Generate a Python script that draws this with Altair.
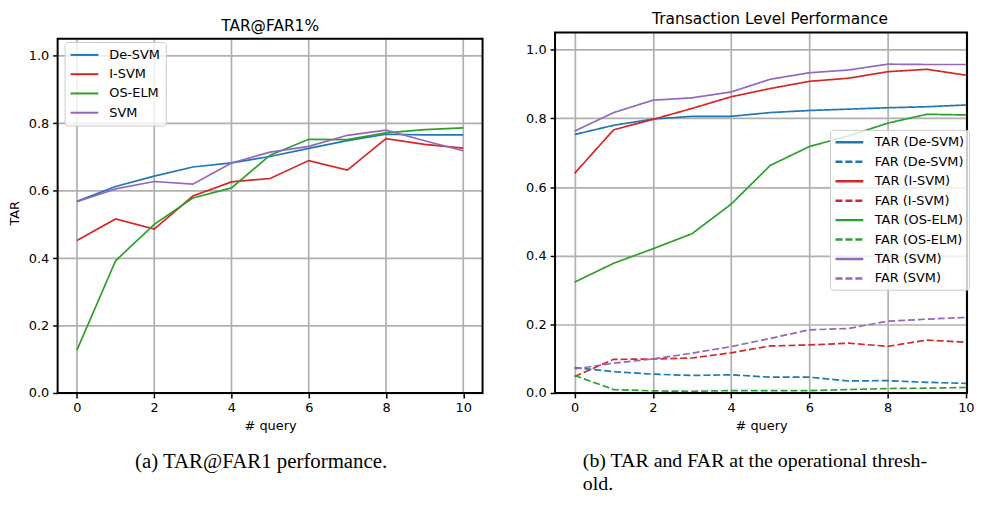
import altair as alt
import pandas as pd

# ---------------- data ----------------
queries = [0, 1, 2, 3, 4, 5, 6, 7, 8, 9, 10]
methods = ["De-SVM", "I-SVM", "OS-ELM", "SVM"]
colors = ["#1f77b4", "#d62728", "#2ca02c", "#9467bd"]

# (a) TAR@FAR1%
tar1_desvm = [0.568, 0.612, 0.643, 0.670, 0.682, 0.701, 0.725, 0.748, 0.767, 0.765, 0.765]
tar1_isvm = [0.452, 0.516, 0.486, 0.584, 0.626, 0.636, 0.689, 0.661, 0.754, 0.737, 0.726]
tar1_oselm = [0.127, 0.392, 0.500, 0.578, 0.608, 0.705, 0.752, 0.751, 0.771, 0.781, 0.786]
tar1_svm = [0.567, 0.605, 0.627, 0.619, 0.682, 0.714, 0.731, 0.764, 0.779, 0.748, 0.718]

# (b) TAR / FAR at operational threshold
tar_desvm = [0.753, 0.780, 0.798, 0.806, 0.806, 0.817, 0.823, 0.827, 0.831, 0.834, 0.839]
far_desvm = [0.074, 0.062, 0.055, 0.051, 0.053, 0.046, 0.046, 0.035, 0.036, 0.031, 0.028]
tar_isvm = [0.640, 0.767, 0.797, 0.829, 0.863, 0.887, 0.908, 0.917, 0.936, 0.943, 0.926]
far_isvm = [0.048, 0.098, 0.099, 0.102, 0.117, 0.137, 0.140, 0.145, 0.136, 0.154, 0.148]
tar_oselm = [0.323, 0.378, 0.420, 0.464, 0.550, 0.663, 0.718, 0.749, 0.786, 0.812, 0.810]
far_oselm = [0.051, 0.010, 0.006, 0.005, 0.007, 0.007, 0.007, 0.010, 0.013, 0.014, 0.016]
tar_svm = [0.763, 0.817, 0.853, 0.860, 0.877, 0.914, 0.933, 0.941, 0.958, 0.957, 0.957]
far_svm = [0.070, 0.087, 0.099, 0.116, 0.135, 0.159, 0.184, 0.188, 0.209, 0.215, 0.220]

series_b = ["TAR (De-SVM)", "FAR (De-SVM)", "TAR (I-SVM)", "FAR (I-SVM)",
            "TAR (OS-ELM)", "FAR (OS-ELM)", "TAR (SVM)", "FAR (SVM)"]
colors_b = ["#1f77b4", "#1f77b4", "#d62728", "#d62728",
            "#2ca02c", "#2ca02c", "#9467bd", "#9467bd"]
dashes_b = [[1, 0], [7, 3], [1, 0], [7, 3], [1, 0], [7, 3], [1, 0], [7, 3]]

x_ticks = [0, 2, 4, 6, 8, 10]
y_ticks = [0.0, 0.2, 0.4, 0.6, 0.8, 1.0]

title_a = "TAR@FAR1%"
title_b = "Transaction Level Performance"
caption_a = ["(a) TAR@FAR1 performance."]
caption_b = ["(b) TAR and FAR at the operational thresh-", "old."]

# ---------------- tables ----------------
rows_a = []
for m, vals in zip(methods, [tar1_desvm, tar1_isvm, tar1_oselm, tar1_svm]):
    for q, v in zip(queries, vals):
        rows_a.append({"query": q, "method": m, "TAR": v})
df_a = pd.DataFrame(rows_a)

rows_b = []
for s, vals in zip(series_b, [tar_desvm, far_desvm, tar_isvm, far_isvm,
                              tar_oselm, far_oselm, tar_svm, far_svm]):
    for q, v in zip(queries, vals):
        rows_b.append({"query": q, "series": s, "value": v})
df_b = pd.DataFrame(rows_b)

FONT = "DejaVu Sans"
GRID = "#b0b0b0"
H = 363
XMAX_B = 10.03

def x_axis(grid):
    return alt.Axis(values=x_ticks, format="d", title="# query", grid=grid,
                    gridColor=GRID, gridWidth=1.7, domain=False,
                    tickSize=5, tickWidth=1.5, tickColor="black",
                    labelPadding=4, labelFontSize=13, labelFont=FONT,
                    labelColor="black", labelFlush=False,
                    titleFont=FONT, titleFontSize=13, titleFontWeight="normal",
                    titleColor="black", titlePadding=5)

def y_axis(title):
    kw = dict(values=y_ticks, format=".1f", grid=True, gridColor=GRID,
              gridWidth=1.7, domain=False, tickSize=5, tickWidth=1.5,
              tickColor="black", labelPadding=4, labelFontSize=13,
              labelFont=FONT, labelColor="black", labelFlush=False)
    if title:
        kw.update(title=title, titleFont=FONT, titleFontSize=13,
                  titleFontWeight="normal", titleColor="black", titlePadding=7)
    else:
        kw.update(title=None)
    return alt.Axis(**kw)

# ---------------- panel (a) ----------------
xs_a = alt.Scale(domain=[-0.5, 10.5], nice=False, zero=False)
ys_a = alt.Scale(domain=[0, 1.0685], nice=False, zero=False)
xa = alt.X("query:Q", scale=xs_a, axis=x_axis(False))
ya = alt.Y("TAR:Q", scale=ys_a, axis=y_axis("TAR"))

vgrid_a = alt.Chart(pd.DataFrame({"query": x_ticks})).mark_rule(
    color=GRID, strokeWidth=1.7).encode(x=xa, y=alt.datum(0), y2=alt.datum(1.05))

lines_a = alt.Chart(df_a).mark_line(strokeWidth=1.7).encode(
    x=xa, y=ya,
    color=alt.Color("method:N", scale=alt.Scale(domain=methods, range=colors),
                    legend=alt.Legend(orient="none", legendX=7, legendY=9.5, title=None,
                                      symbolType="M-1,0H3", symbolSize=196,
                                      symbolStrokeWidth=2, labelFontSize=13,
                                      labelFont=FONT, labelColor="black",
                                      labelOffset=24, padding=5, rowPadding=4.4,
                                      fillColor="rgba(255,255,255,0.8)",
                                      strokeColor="#cccccc", cornerRadius=3)),
)

frame_a = alt.Chart(pd.DataFrame({"query": [0]})).mark_rect(
    fillOpacity=0, stroke="black", strokeWidth=2).encode(
    x=alt.datum(-0.5), x2=alt.datum(10.5), y=alt.datum(0), y2=alt.datum(1.05))

cap_a = alt.Chart(pd.DataFrame({"t": caption_a})).mark_text(
    font="Liberation Serif", fontSize=21, align="left", baseline="middle",
    color="black").encode(text="t:N", x=alt.value(78), y=alt.value(433))

panel_a = alt.layer(vgrid_a, lines_a, frame_a, cap_a).properties(
    width=428, height=H,
    title=alt.TitleParams(title_a, font=FONT, fontSize=15.5, fontWeight="normal",
                          color="black", offset=-2))

# ---------------- panel (b) ----------------
xs_b = alt.Scale(domain=[-0.5, XMAX_B], nice=False, zero=False)
ys_b = alt.Scale(domain=[0, 1.05], nice=False, zero=False)
xb = alt.X("query:Q", scale=xs_b, axis=x_axis(True))
yb = alt.Y("value:Q", scale=ys_b, axis=y_axis(None))

leg_b = alt.Legend(orient="none", legendX=277, legendY=98, title=None,
                   symbolType="M-1,0H3", symbolSize=196, symbolStrokeWidth=2.5,
                   labelFontSize=13, labelFont=FONT, labelColor="black",
                   labelOffset=24, padding=4, rowPadding=3.6,
                   fillColor="rgba(255,255,255,0.8)", strokeColor="#cccccc",
                   cornerRadius=3)

lines_b = alt.Chart(df_b).mark_line(strokeWidth=1.7).encode(
    x=xb, y=yb,
    color=alt.Color("series:N", scale=alt.Scale(domain=series_b, range=colors_b),
                    legend=leg_b),
    strokeDash=alt.StrokeDash("series:N",
                              scale=alt.Scale(domain=series_b, range=dashes_b),
                              legend=leg_b),
)

frame_b = alt.Chart(pd.DataFrame({"query": [0]})).mark_rect(
    fillOpacity=0, stroke="black", strokeWidth=2).encode(
    x=alt.datum(-0.5), x2=alt.datum(XMAX_B), y=alt.datum(0), y2=alt.datum(1.05))

cap_b = alt.Chart(pd.DataFrame({"t": caption_b, "yy": [432, 455]})).mark_text(
    font="Liberation Serif", fontSize=20, align="left", baseline="middle",
    color="black").encode(text="t:N", x=alt.value(28), y=alt.Y("yy:Q", scale=None))

panel_b = alt.layer(lines_b, frame_b, cap_b).properties(
    width=415, height=H,
    title=alt.TitleParams(title_b, font=FONT, fontSize=15.5, fontWeight="normal",
                          color="black", offset=4, dx=9))

chart = alt.hconcat(panel_a, panel_b, spacing=42).resolve_scale(
    color="independent", strokeDash="independent", x="independent",
    y="independent").properties(
    padding={"left": 0, "top": 2, "right": -1, "bottom": 0}
).configure_view(stroke=None)

chart.save("out.html", embed_options={"renderer": "svg", "actions": False})
